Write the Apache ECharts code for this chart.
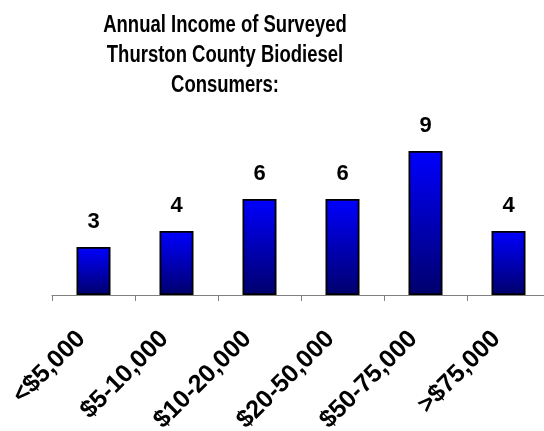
<!DOCTYPE html>
<html><head><meta charset="utf-8">
<script src="https://cdn.jsdelivr.net/npm/echarts@6/dist/echarts.min.js"></script>
<style>html,body{margin:0;padding:0;background:#fff}#c{width:544px;height:431px}</style>
</head><body><div id="c"></div>
<script>
var categories = ['<$5,000', '$5-10,000', '$10-20,000', '$20-50,000', '$50-75,000', '>$75,000'];
var counts = [3, 4, 6, 6, 9, 4];
var titleLines = ['Annual Income of Surveyed', 'Thurston County Biodiesel', 'Consumers:'];

var FONT = '"Liberation Sans", Arial, sans-serif';
var chart = echarts.init(document.getElementById('c'), null, {renderer: 'canvas'});
chart.setOption({
  animation: false,
  backgroundColor: '#fff',
  graphic: [{
    type: 'text', x: 225, y: 10, scaleY: 1.28,
    style: {
      text: titleLines.join('\n'), align: 'center', verticalAlign: 'top',
      font: 'bold 18.5px ' + FONT, lineHeight: 23.5, fill: '#000'
    }
  }],
  grid: {left: 52, top: 135, width: 498, height: 160, containLabel: false, outerBoundsMode: 'none'},
  xAxis: {
    type: 'category', data: categories,
    axisLine: {lineStyle: {color: '#808080', width: 1}},
    axisTick: {show: true, length: 6, lineStyle: {color: '#808080'}},
    axisLabel: {interval: 0, rotate: 45, margin: 28, padding: [0, 17, 0, 0], fontFamily: FONT, fontWeight: 'bold', fontSize: 25, color: '#000'}
  },
  yAxis: {type: 'value', min: 0, max: 10, show: false, splitLine: {show: false}},
  series: [{
    type: 'bar', data: counts, barWidth: 34,
    itemStyle: {
      borderColor: '#000', borderWidth: 1.8,
      color: new echarts.graphic.LinearGradient(0, 0, 0, 1, [{offset: 0, color: '#0000ff'}, {offset: 1, color: '#00006c'}])
    },
    label: {show: true, position: 'top', distance: 14, fontFamily: FONT, fontWeight: 'bold', fontSize: 22, color: '#000'}
  }]
});
</script></body></html>
